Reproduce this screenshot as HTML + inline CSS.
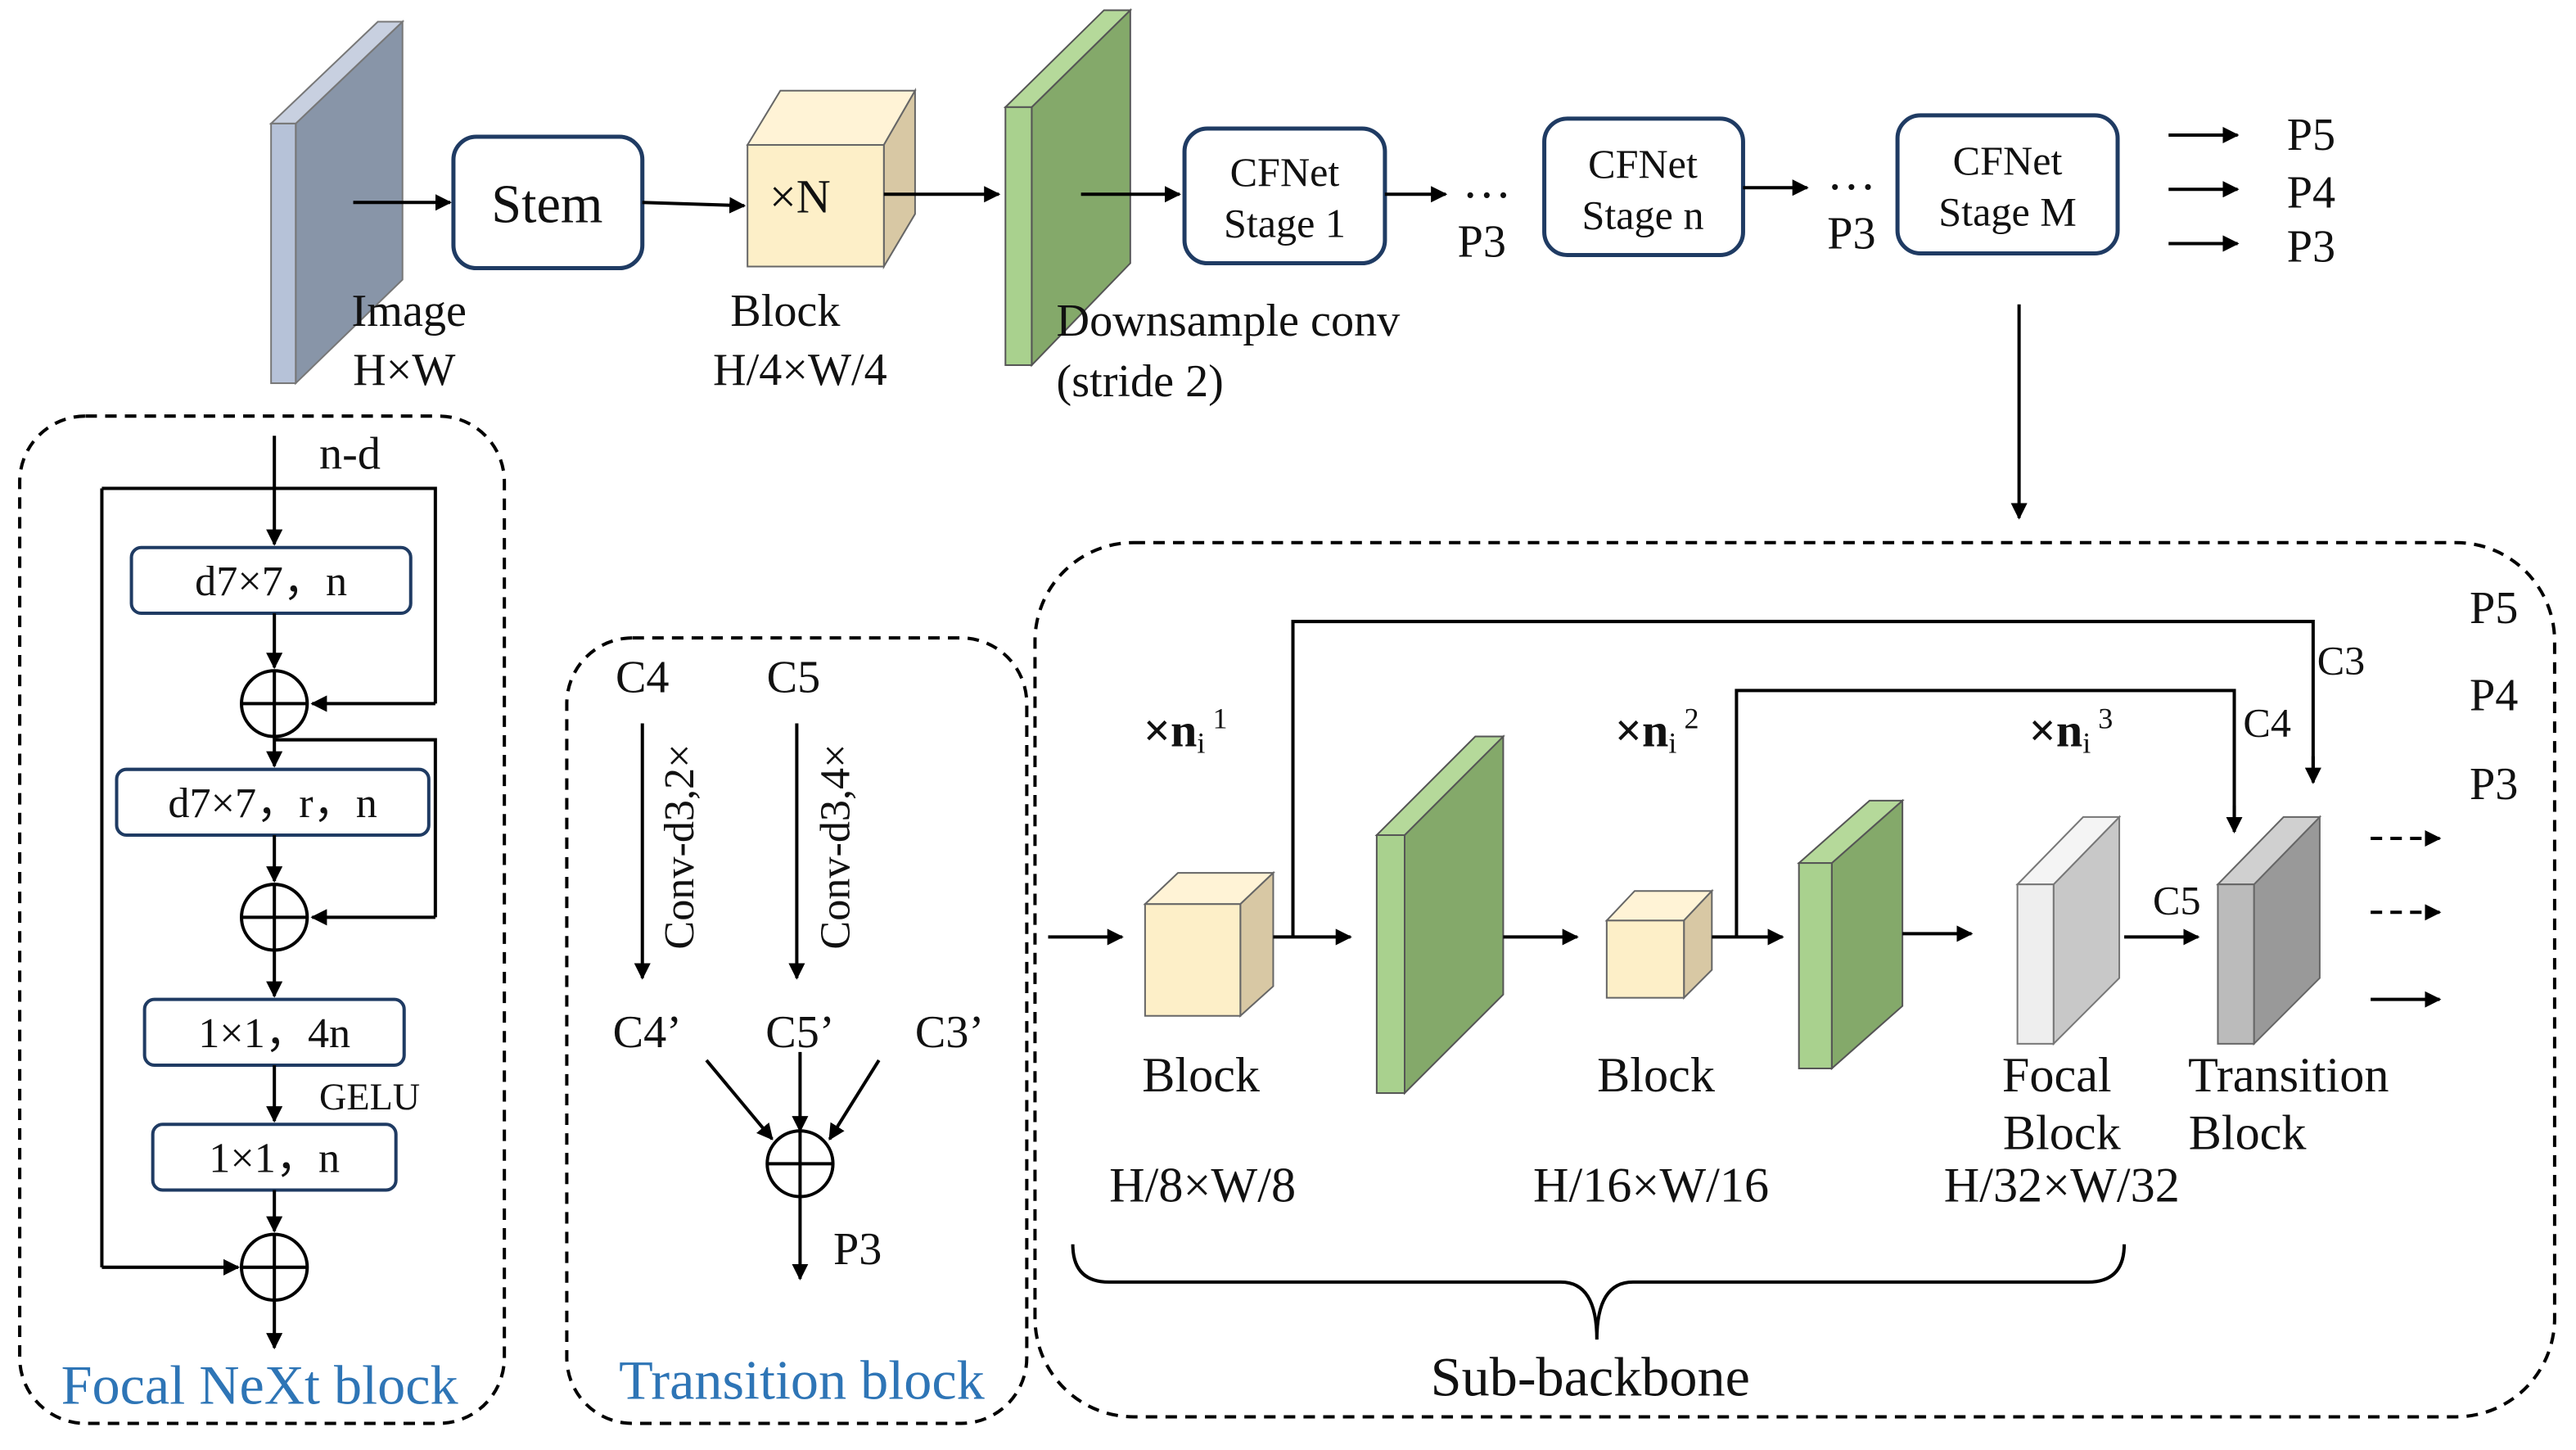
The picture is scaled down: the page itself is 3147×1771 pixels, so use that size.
<!DOCTYPE html>
<html><head><meta charset="utf-8"><style>
html,body{margin:0;padding:0;background:#fff;}
svg{display:block;}
text{font-family:"Liberation Serif",serif;fill:#111;}
</style></head><body>
<svg width="3147" height="1771" viewBox="0 0 1568 882" xmlns="http://www.w3.org/2000/svg">
<defs>
<marker id="a" markerWidth="10" markerHeight="10" refX="9" refY="5" orient="auto" markerUnits="userSpaceOnUse">
<path d="M0,0 L10,5 L0,10 z" fill="#000"/></marker>
</defs>
<g stroke="#000" stroke-width="2" fill="none">
<polygon points="180,75 245,13 245,170 180,233" fill="#8895a8" stroke="#777" stroke-width="1"/>
<polygon points="165,75 180,75 245,13 230,13" fill="#c8d0e0" stroke="#777" stroke-width="1"/>
<rect x="165" y="75" width="15" height="158" fill="#b6c2d8" stroke="#777" stroke-width="1"/>
<line x1="215" y1="123" x2="274" y2="123" marker-end="url(#a)"/>
<rect x="276" y="83" width="115" height="80" rx="14" fill="#fff" stroke="#1f3b63" stroke-width="2.5"/>
<line x1="391" y1="123" x2="453" y2="125" marker-end="url(#a)"/>
<polygon points="455,88 475,55 557,55 538,88" fill="#fff3d6" stroke="#666" stroke-width="1"/>
<polygon points="538,88 557,55 557,130 538,162" fill="#d8c8a4" stroke="#666" stroke-width="1"/>
<rect x="455" y="88" width="83" height="74" fill="#fdefc8" stroke="#666" stroke-width="1"/>
<line x1="538" y1="118" x2="608" y2="118" marker-end="url(#a)"/>
<polygon points="628,65 688,6 688,160 628,222" fill="#84a96a" stroke="#555" stroke-width="1"/>
<polygon points="612,65 628,65 688,6 672,6" fill="#b5d99a" stroke="#555" stroke-width="1"/>
<rect x="612" y="65" width="16" height="157" fill="#a9d18e" stroke="#555" stroke-width="1"/>
<line x1="658" y1="118" x2="718" y2="118" marker-end="url(#a)"/>
<rect x="721" y="78" width="122" height="82" rx="14" fill="#fff" stroke="#1f3b63" stroke-width="2.5"/>
<line x1="843" y1="118" x2="880" y2="118" marker-end="url(#a)"/>
<rect x="940" y="72" width="121" height="83" rx="14" fill="#fff" stroke="#1f3b63" stroke-width="2.5"/>
<line x1="1061" y1="114" x2="1100" y2="114" marker-end="url(#a)"/>
<rect x="1155" y="70" width="134" height="84" rx="14" fill="#fff" stroke="#1f3b63" stroke-width="2.5"/>
<line x1="1320" y1="82" x2="1362" y2="82" marker-end="url(#a)"/>
<line x1="1320" y1="115" x2="1362" y2="115" marker-end="url(#a)"/>
<line x1="1320" y1="148" x2="1362" y2="148" marker-end="url(#a)"/>
<line x1="1229" y1="185" x2="1229" y2="315" marker-end="url(#a)"/>

<rect x="12" y="253" width="295" height="613" rx="40" stroke-dasharray="7,5"/>
<line x1="167" y1="265" x2="167" y2="331" marker-end="url(#a)"/>
<polyline points="62,297 265,297 265,428"/>
<line x1="265" y1="428" x2="190" y2="428" marker-end="url(#a)"/>
<polyline points="62,297 62,771"/>
<line x1="62" y1="771" x2="145" y2="771" marker-end="url(#a)"/>
<rect x="80" y="333" width="170" height="40" rx="6" stroke="#1f3b63"/>
<line x1="167" y1="373" x2="167" y2="406" marker-end="url(#a)"/>
<circle cx="167" cy="428" r="20"/><line x1="147" y1="428" x2="187" y2="428"/><line x1="167" y1="408" x2="167" y2="448"/>
<line x1="167" y1="448" x2="167" y2="466" marker-end="url(#a)"/>
<polyline points="167,450 265,450 265,558"/>
<line x1="265" y1="558" x2="190" y2="558" marker-end="url(#a)"/>
<rect x="71" y="468" width="190" height="40" rx="6" stroke="#1f3b63"/>
<line x1="167" y1="508" x2="167" y2="536" marker-end="url(#a)"/>
<circle cx="167" cy="558" r="20"/><line x1="147" y1="558" x2="187" y2="558"/><line x1="167" y1="538" x2="167" y2="578"/>
<line x1="167" y1="578" x2="167" y2="606" marker-end="url(#a)"/>
<rect x="88" y="608" width="158" height="40" rx="6" stroke="#1f3b63"/>
<line x1="167" y1="648" x2="167" y2="682" marker-end="url(#a)"/>
<rect x="93" y="684" width="148" height="40" rx="6" stroke="#1f3b63"/>
<line x1="167" y1="724" x2="167" y2="749" marker-end="url(#a)"/>
<circle cx="167" cy="771" r="20"/><line x1="147" y1="771" x2="187" y2="771"/><line x1="167" y1="751" x2="167" y2="791"/>
<line x1="167" y1="791" x2="167" y2="820" marker-end="url(#a)"/>

<rect x="345" y="388" width="280" height="478" rx="40" stroke-dasharray="7,5"/>
<line x1="391" y1="440" x2="391" y2="595" marker-end="url(#a)"/>
<line x1="485" y1="440" x2="485" y2="595" marker-end="url(#a)"/>
<line x1="430" y1="645" x2="470" y2="693" marker-end="url(#a)"/>
<line x1="487" y1="640" x2="487" y2="688" marker-end="url(#a)"/>
<line x1="535" y1="645" x2="505" y2="693" marker-end="url(#a)"/>
<circle cx="487" cy="708" r="20"/><line x1="467" y1="708" x2="507" y2="708"/><line x1="487" y1="688" x2="487" y2="728"/>
<line x1="487" y1="728" x2="487" y2="778" marker-end="url(#a)"/>

<rect x="630" y="330" width="925" height="532" rx="60" stroke-dasharray="7,5"/>
<line x1="638" y1="570" x2="683" y2="570" marker-end="url(#a)"/>
<polygon points="697,550 717,531 775,531 755,550" fill="#fff3d6" stroke="#666" stroke-width="1"/>
<polygon points="755,550 775,531 775,600 755,618" fill="#d8c8a4" stroke="#666" stroke-width="1"/>
<rect x="697" y="550" width="58" height="68" fill="#fdefc8" stroke="#666" stroke-width="1"/>
<polyline points="787,570 787,378 1408,378 1408,475" />
<line x1="1408" y1="460" x2="1408" y2="476" marker-end="url(#a)"/>
<line x1="775" y1="570" x2="822" y2="570" marker-end="url(#a)"/>
<polygon points="855,508 915,448 915,605 855,665" fill="#84a96a" stroke="#555" stroke-width="1"/>
<polygon points="838,508 855,508 915,448 898,448" fill="#b5d99a" stroke="#555" stroke-width="1"/>
<rect x="838" y="508" width="17" height="157" fill="#a9d18e" stroke="#555" stroke-width="1"/>
<line x1="915" y1="570" x2="960" y2="570" marker-end="url(#a)"/>
<polygon points="978,560 995,542 1042,542 1025,560" fill="#fff3d6" stroke="#666" stroke-width="1"/>
<polygon points="1025,560 1042,542 1042,590 1025,607" fill="#d8c8a4" stroke="#666" stroke-width="1"/>
<rect x="978" y="560" width="47" height="47" fill="#fdefc8" stroke="#666" stroke-width="1"/>
<polyline points="1057,570 1057,420 1360,420 1360,505"/>
<line x1="1360" y1="490" x2="1360" y2="506" marker-end="url(#a)"/>
<line x1="1042" y1="570" x2="1085" y2="570" marker-end="url(#a)"/>
<polygon points="1115,525 1158,487 1158,612 1115,650" fill="#84a96a" stroke="#555" stroke-width="1"/>
<polygon points="1095,525 1115,525 1158,487 1138,487" fill="#b5d99a" stroke="#555" stroke-width="1"/>
<rect x="1095" y="525" width="20" height="125" fill="#a9d18e" stroke="#555" stroke-width="1"/>
<line x1="1158" y1="568" x2="1200" y2="568" marker-end="url(#a)"/>
<polygon points="1250,538 1290,497 1290,595 1250,635" fill="#c8c8c8" stroke="#777" stroke-width="1"/>
<polygon points="1228,538 1250,538 1290,497 1268,497" fill="#f4f4f4" stroke="#777" stroke-width="1"/>
<rect x="1228" y="538" width="22" height="97" fill="#eeeeee" stroke="#777" stroke-width="1"/>
<line x1="1293" y1="570" x2="1338" y2="570" marker-end="url(#a)"/>
<polygon points="1372,538 1412,497 1412,595 1372,635" fill="#999" stroke="#666" stroke-width="1"/>
<polygon points="1350,538 1372,538 1412,497 1390,497" fill="#d0d0d0" stroke="#666" stroke-width="1"/>
<rect x="1350" y="538" width="22" height="97" fill="#bbbbbb" stroke="#666" stroke-width="1"/>
<line x1="1443" y1="510" x2="1485" y2="510" stroke-dasharray="7,5" marker-end="url(#a)"/>
<line x1="1443" y1="555" x2="1485" y2="555" stroke-dasharray="7,5" marker-end="url(#a)"/>
<line x1="1443" y1="608" x2="1485" y2="608" marker-end="url(#a)"/>
<path d="M653,757 Q653,780 675,780 L950,780 Q972,780 972,815 Q972,780 994,780 L1271,780 Q1293,780 1293,757"/>
</g>

<g font-size="28">
<text x="333" y="135" text-anchor="middle" font-size="33">Stem</text>
<text x="487" y="129" text-anchor="middle" font-size="29">×N</text>
<text x="782" y="113" text-anchor="middle" font-size="25">CFNet</text>
<text x="782" y="144" text-anchor="middle" font-size="25">Stage 1</text>
<text x="1000" y="108" text-anchor="middle" font-size="25">CFNet</text>
<text x="1000" y="139" text-anchor="middle" font-size="25">Stage n</text>
<text x="1222" y="106" text-anchor="middle" font-size="25">CFNet</text>
<text x="1222" y="137" text-anchor="middle" font-size="25">Stage M</text>
<text x="905" y="120" text-anchor="middle" font-size="30">…</text>
<text x="902" y="156" text-anchor="middle">P3</text>
<text x="1127" y="115" text-anchor="middle" font-size="30">…</text>
<text x="1127" y="151" text-anchor="middle">P3</text>
<text x="1392" y="91">P5</text>
<text x="1392" y="126">P4</text>
<text x="1392" y="159">P3</text>
<text x="249" y="198" text-anchor="middle">Image</text>
<text x="246" y="234" text-anchor="middle">H×W</text>
<text x="478" y="198" text-anchor="middle">Block</text>
<text x="487" y="234" text-anchor="middle">H/4×W/4</text>
<text x="643" y="204">Downsample conv</text>
<text x="643" y="241">(stride 2)</text>

<text x="213" y="285" text-anchor="middle">n-d</text>
<text x="165" y="362" text-anchor="middle" font-size="26">d7×7，n</text>
<text x="166" y="497" text-anchor="middle" font-size="26">d7×7，r，n</text>
<text x="167" y="637" text-anchor="middle" font-size="26">1×1，4n</text>
<text x="225" y="675" text-anchor="middle" font-size="23">GELU</text>
<text x="167" y="713" text-anchor="middle" font-size="26">1×1，n</text>
<text x="158" y="854" text-anchor="middle" font-size="34" style="fill:#2e75b6">Focal NeXt block</text>

<text x="391" y="421" text-anchor="middle">C4</text>
<text x="483" y="421" text-anchor="middle">C5</text>
<text transform="translate(422,515) rotate(-90)" text-anchor="middle" font-size="26">Conv-d3,2×</text>
<text transform="translate(517,515) rotate(-90)" text-anchor="middle" font-size="26">Conv-d3,4×</text>
<text x="394" y="637" text-anchor="middle">C4’</text>
<text x="487" y="637" text-anchor="middle">C5’</text>
<text x="578" y="637" text-anchor="middle">C3’</text>
<text x="522" y="769" text-anchor="middle">P3</text>
<text x="488" y="851" text-anchor="middle" font-size="34" style="fill:#2e75b6">Transition block</text>

<text x="1425" y="410" text-anchor="middle" font-size="25">C3</text>
<text x="1380" y="448" text-anchor="middle" font-size="25">C4</text>
<text x="1325" y="556" text-anchor="middle" font-size="25">C5</text>
<text x="1518" y="379" text-anchor="middle">P5</text>
<text x="1518" y="432" text-anchor="middle">P4</text>
<text x="1518" y="486" text-anchor="middle">P3</text>
<text x="696" y="454" font-size="29"><tspan font-weight="bold">×n</tspan><tspan font-size="18" dy="4">i</tspan><tspan font-size="18" dy="-15"> 1</tspan></text>
<text x="983" y="454" font-size="29"><tspan font-weight="bold">×n</tspan><tspan font-size="18" dy="4">i</tspan><tspan font-size="18" dy="-15"> 2</tspan></text>
<text x="1235" y="454" font-size="29"><tspan font-weight="bold">×n</tspan><tspan font-size="18" dy="4">i</tspan><tspan font-size="18" dy="-15"> 3</tspan></text>
<text x="731" y="664" text-anchor="middle" font-size="30">Block</text>
<text x="1008" y="664" text-anchor="middle" font-size="30">Block</text>
<text x="1252" y="664" text-anchor="middle" font-size="30">Focal</text>
<text x="1255" y="699" text-anchor="middle" font-size="30">Block</text>
<text x="1393" y="664" text-anchor="middle" font-size="30">Transition</text>
<text x="1368" y="699" text-anchor="middle" font-size="30">Block</text>
<text x="732" y="731" text-anchor="middle" font-size="30">H/8×W/8</text>
<text x="1005" y="731" text-anchor="middle" font-size="30">H/16×W/16</text>
<text x="1255" y="731" text-anchor="middle" font-size="30">H/32×W/32</text>
<text x="968" y="849" text-anchor="middle" font-size="34">Sub-backbone</text>
</g>
</svg>
</body></html>
